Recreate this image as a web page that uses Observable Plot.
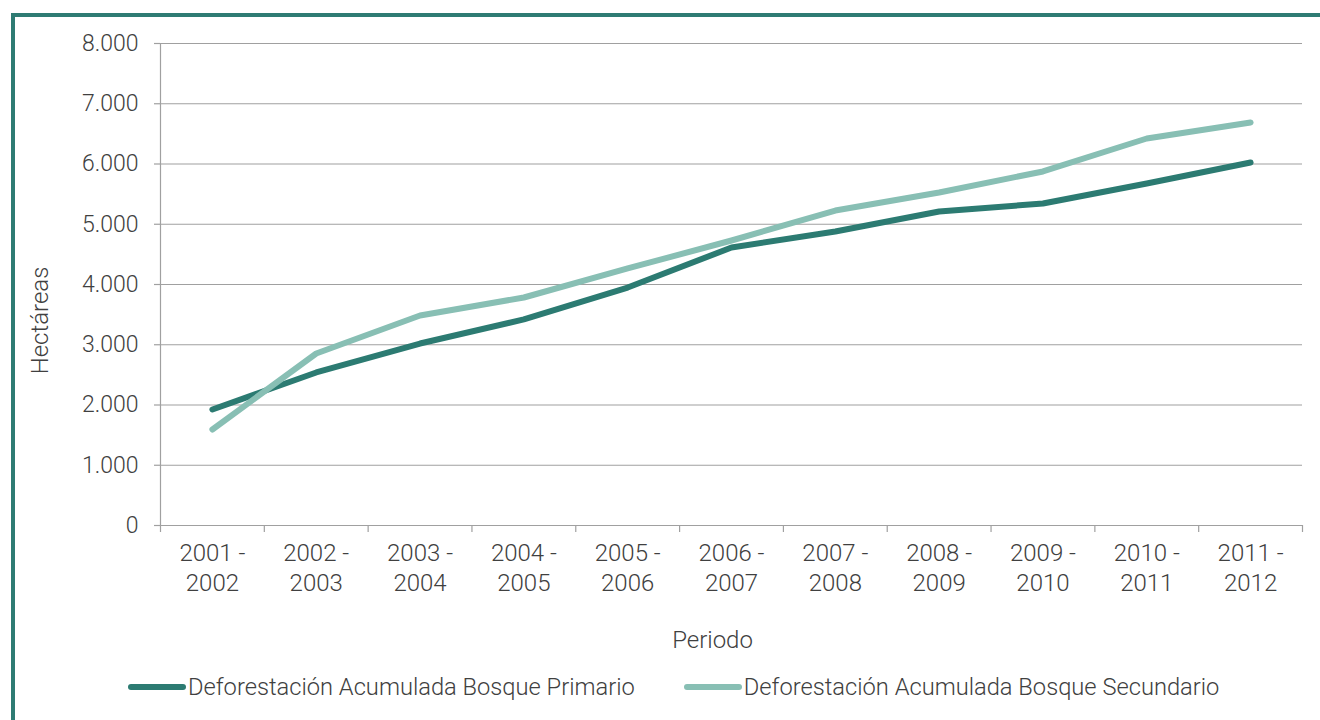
<!DOCTYPE html>
<html>
<head>
<meta charset="utf-8">
<script src="https://cdn.jsdelivr.net/npm/d3@7"></script>
<script src="https://cdn.jsdelivr.net/npm/@observablehq/plot@0.6"></script>
<style>
  html, body { margin: 0; padding: 0; background: #fff; width: 1320px; height: 720px; overflow: hidden; }
  body { font-family: Roboto, "Noto Sans", sans-serif; font-weight: 300; color: #404040; }
  #frame { position: absolute; left: 11px; top: 13px; width: 1400px; height: 800px;
           border-left: 4px solid #2E7B73; border-top: 4px solid #2E7B73; box-sizing: border-box; }
  #chart { position: absolute; left: 0; top: 0; }
  #legend { position: absolute; left: 127px; top: 672px; display: flex; align-items: center; font-size: 23.7px; line-height: 30px; }
  .item { display: flex; align-items: center; margin-right: 48px; }
  .item svg { display: block; margin-right: 1px; }
</style>
</head>
<body>
<div id="frame"></div>
<div id="chart"></div>
<div id="legend"></div>
<script>
const categories = ["2001 - 2002","2002 - 2003","2003 - 2004","2004 - 2005","2005 - 2006","2006 - 2007","2007 - 2008","2008 - 2009","2009 - 2010","2010 - 2011","2011 - 2012"];
const primario = [1925, 2540, 3020, 3420, 3950, 4614, 4880, 5212, 5344, 5676, 6025];
const secundario = [1593, 2855, 3485, 3784, 4266, 4730, 5228, 5527, 5876, 6423, 6689];
const seriesNames = ["Deforestación Acumulada Bosque Primario", "Deforestación Acumulada Bosque Secundario"];
const seriesColors = ["#2C7B72", "#88BFB4"];
const yTicks = [0, 1000, 2000, 3000, 4000, 5000, 6000, 7000, 8000];

const data = [];
[primario, secundario].forEach((vals, s) => {
  vals.forEach((v, i) => data.push({i, cat: categories[i], value: v, series: seriesNames[s]}));
});

const n = categories.length;
const boundaries = d3.range(-0.5, n, 1);
const fmt = d3.formatLocale({decimal: ",", thousands: ".", grouping: [3], currency: ["", ""]}).format(",");
const grid = "#a0a0a0";

const chart = Plot.plot({
  width: 1320,
  height: 665,
  marginTop: 43,
  marginBottom: 140,
  marginLeft: 160,
  marginRight: 18,
  style: {fontFamily: "Roboto, 'Noto Sans', sans-serif", fontWeight: 300, fontSize: "24px", color: "#404040", background: "transparent"},
  x: {domain: [-0.5, n - 0.5]},
  y: {domain: [0, 8000]},
  color: {domain: seriesNames, range: seriesColors},
  marks: [
    Plot.gridY({ticks: yTicks, stroke: grid, strokeOpacity: 1, strokeWidth: 1.2}),
    Plot.ruleX([-0.5], {stroke: grid, strokeWidth: 1.2}),
    Plot.axisY({ticks: yTicks, tickSize: 6, tickPadding: 16, tickFormat: fmt, label: null, stroke: grid, strokeWidth: 1.2, fill: "#404040", fontSize: 23}),
    Plot.axisX({ticks: boundaries, tickSize: 7, tickFormat: () => "", label: null, stroke: grid, strokeWidth: 1.2}),
    Plot.axisX({ticks: d3.range(n), tickSize: 0, tickPadding: 14, lineHeight: 1.25,
                tickFormat: i => categories[i].replace(" - ", " -\n"), label: null, fill: "#404040"}),
    Plot.ruleY([0], {stroke: grid, strokeWidth: 1.2}),
    Plot.line(data, {x: "i", y: "value", stroke: "series", z: "series", strokeWidth: 6, strokeLinecap: "round", strokeLinejoin: "round"}),
    Plot.text(["Periodo"], {frameAnchor: "bottom", lineAnchor: "middle", textAnchor: "middle", dx: -19, dy: 115, fill: "#404040"}),
    Plot.text(["Hectáreas"], {frameAnchor: "left", textAnchor: "middle", lineAnchor: "middle", rotate: -90, dx: -120, dy: 36, fill: "#404040"})
  ]
});
document.getElementById("chart").appendChild(chart);

const legend = d3.select("#legend");
seriesNames.forEach((name, s) => {
  const item = legend.append("div").attr("class", "item");
  const sv = item.append("svg").attr("width", 60).attr("height", 12);
  sv.append("line").attr("x1", 4).attr("x2", 56).attr("y1", 6).attr("y2", 6)
    .attr("stroke", seriesColors[s]).attr("stroke-width", 6).attr("stroke-linecap", "round");
  item.append("span").text(name);
});
</script>
</body>
</html>
